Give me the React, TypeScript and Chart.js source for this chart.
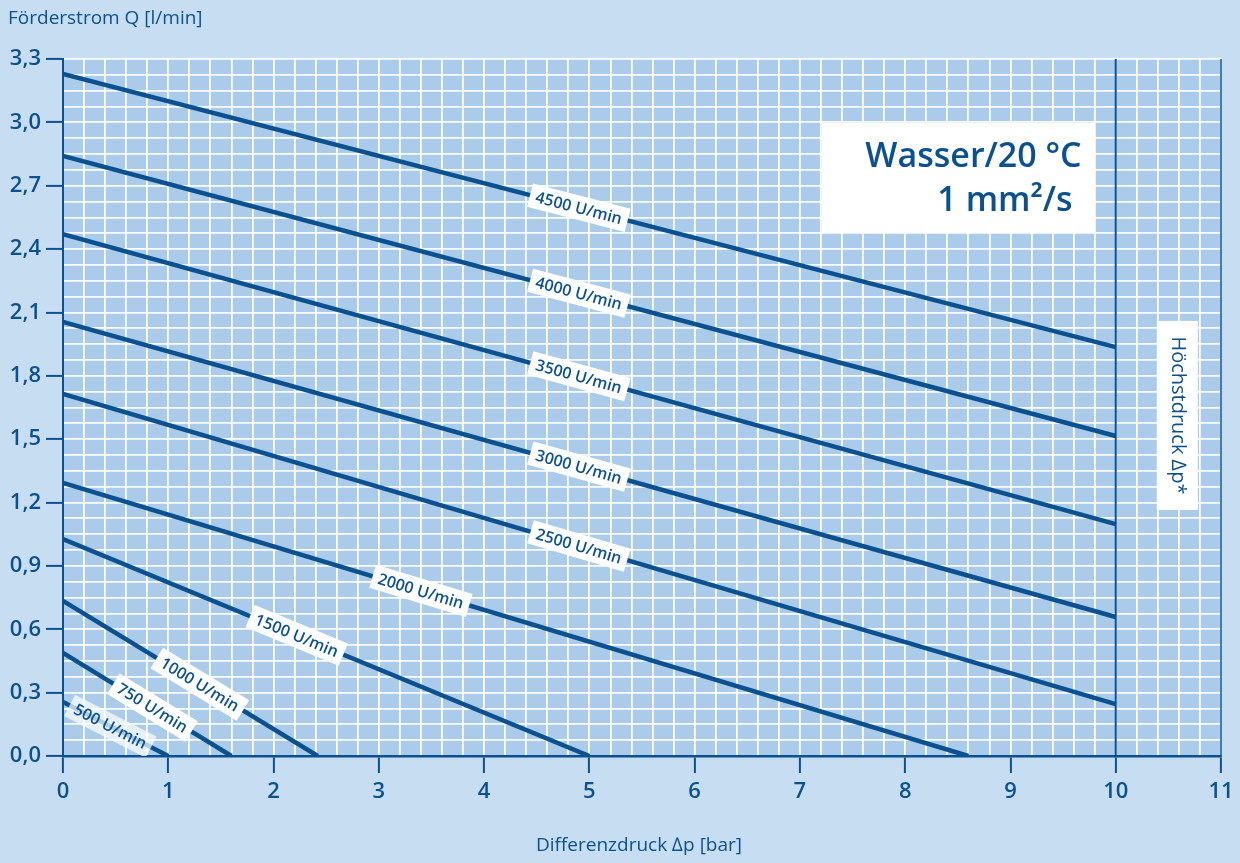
import React, { useEffect, useRef } from "react";
import { Chart, registerables } from "chart.js";

Chart.register(...registerables);

const rpmLabels = ["500 U/min", "750 U/min", "1000 U/min", "1500 U/min", "2000 U/min", "2500 U/min", "3000 U/min", "3500 U/min", "4000 U/min", "4500 U/min"];
const flowAtZero = [0.256, 0.488, 0.734, 1.027, 1.293, 1.714, 2.055, 2.471, 2.841, 3.229];
const endPressure = [1.0, 1.6, 2.42, 5.0, 8.6, 10, 10, 10, 10, 10];
const endFlow = [0, 0, 0, 0, 0, 0.246, 0.658, 1.098, 1.515, 1.936];
const labelPressure = [0.45, 0.85, 1.3, 2.22, 3.4, 4.9, 4.9, 4.9, 4.9, 4.9];

const xTickValues = [0, 1, 2, 3, 4, 5, 6, 7, 8, 9, 10, 11];
const yTickValues = [0, 0.3, 0.6, 0.9, 1.2, 1.5, 1.8, 2.1, 2.4, 2.7, 3.0, 3.3];
const maxPressure = 10;

const yTitle = "Förderstrom Q [l/min]";
const xTitle = "Differenzdruck ∆p [bar]";
const mediumTitle = ["Wasser/20 °C", "1 mm²/s"];
const limitTitle = "Höchstdruck ∆p*";

const DARK = "#0b5190";
const PLOT_BG = "#aacbea";
const PAGE_BG = "#c7ddf1";
const FONT = "'Open Sans', 'Noto Sans', sans-serif";

const isMajor = (v: number, list: number[]) => list.some((t) => Math.abs(t - v) < 1e-6);

const decorPlugin = {
  id: "decor",
  beforeDraw(chart: any) {
    const { ctx, chartArea: a } = chart;
    ctx.save();
    ctx.fillStyle = PLOT_BG;
    ctx.fillRect(a.left, a.top, a.right - a.left, a.bottom - a.top);
    ctx.restore();
  },
  afterDatasetsDraw(chart: any) {
    const { ctx, chartArea: a, scales } = chart;
    const xs = scales.x;
    const ys = scales.y;
    // rpm labels
    ctx.save();
    ctx.beginPath();
    ctx.rect(a.left, a.top, a.right - a.left, a.bottom - a.top);
    ctx.clip();
    ctx.font = `600 16px ${FONT}`;
    rpmLabels.forEach((txt, i) => {
      const slope = (endFlow[i] - flowAtZero[i]) / endPressure[i];
      const px = labelPressure[i];
      const py = flowAtZero[i] + slope * px;
      const cx = xs.getPixelForValue(px);
      const cy = ys.getPixelForValue(py);
      const dx = xs.getPixelForValue(endPressure[i]) - xs.getPixelForValue(0);
      const dy = ys.getPixelForValue(endFlow[i]) - ys.getPixelForValue(flowAtZero[i]);
      const ang = Math.atan2(dy, dx);
      const w = ctx.measureText(txt).width + 12;
      const h = 24;
      ctx.save();
      ctx.translate(cx, cy);
      ctx.rotate(ang);
      ctx.fillStyle = i === 0 ? "rgba(255,255,255,0.7)" : "#ffffff";
      ctx.fillRect(-w / 2, -h / 2, w, h);
      ctx.fillStyle = DARK;
      ctx.textAlign = "center";
      ctx.textBaseline = "middle";
      ctx.fillText(txt, 0, 1);
      ctx.restore();
    });
    ctx.restore();

    // limit line at max pressure and right border
    ctx.save();
    ctx.strokeStyle = DARK;
    ctx.lineWidth = 2;
    const x10 = xs.getPixelForValue(maxPressure);
    ctx.beginPath();
    ctx.moveTo(x10, a.top);
    ctx.lineTo(x10, a.bottom);
    ctx.stroke();
    ctx.lineWidth = 1.5;
    ctx.beginPath();
    ctx.moveTo(a.right, a.top);
    ctx.lineTo(a.right, a.bottom);
    ctx.stroke();

    // medium box
    const bx1 = xs.getPixelForValue(7.21);
    const bx2 = xs.getPixelForValue(9.8);
    const by1 = ys.getPixelForValue(2.997);
    const by2 = ys.getPixelForValue(2.476);
    ctx.fillStyle = "#ffffff";
    ctx.fillRect(bx1, by1, bx2 - bx1, by2 - by1);
    ctx.fillStyle = DARK;
    ctx.font = `600 34px ${FONT}`;
    ctx.textAlign = "right";
    ctx.textBaseline = "middle";
    ctx.fillText(mediumTitle[0], bx2 - 13, by1 + 34);
    ctx.fillText(mediumTitle[1], bx2 - 22, by1 + 78);

    // limit box
    const lx1 = xs.getPixelForValue(10.39);
    const lx2 = xs.getPixelForValue(10.78);
    const ly1 = ys.getPixelForValue(2.06);
    const ly2 = ys.getPixelForValue(1.165);
    ctx.fillStyle = "#ffffff";
    ctx.fillRect(lx1, ly1, lx2 - lx1, ly2 - ly1);
    ctx.save();
    ctx.translate((lx1 + lx2) / 2, (ly1 + ly2) / 2);
    ctx.rotate(Math.PI / 2);
    ctx.fillStyle = DARK;
    ctx.font = `400 20px ${FONT}`;
    ctx.textAlign = "center";
    ctx.textBaseline = "middle";
    ctx.fillText(limitTitle, 0, 0);
    ctx.restore();

    // axis titles
    ctx.fillStyle = DARK;
    ctx.font = `400 19px ${FONT}`;
    ctx.textAlign = "left";
    ctx.textBaseline = "middle";
    ctx.fillText(yTitle, 8, 19);
    ctx.textAlign = "center";
    ctx.fillText(xTitle, 639, 846);
    ctx.restore();
  },
};

export default function App() {
  const ref = useRef<HTMLCanvasElement | null>(null);

  useEffect(() => {
    if (!ref.current) return;
    const datasets = rpmLabels.map((l, i) => ({
      label: l,
      data: [
        { x: 0, y: flowAtZero[i] },
        { x: endPressure[i], y: endFlow[i] },
      ],
      showLine: true,
      borderColor: DARK,
      borderWidth: 4.5,
      pointRadius: 0,
      fill: false,
    }));
    const chart = new Chart(ref.current, {
      type: "scatter",
      data: { datasets },
      plugins: [decorPlugin],
      options: {
        animation: false,
        responsive: false,
        maintainAspectRatio: false,
        layout: { padding: { top: 59, right: 19, left: 0, bottom: 0 } },
        plugins: { legend: { display: false }, tooltip: { enabled: false } },
        scales: {
          x: {
            type: "linear",
            min: 0,
            max: 11,
            afterFit: (s: any) => {
              s.height = 107;
            },
            border: { color: DARK, width: 2.5 },
            grid: {
              color: "rgba(255,255,255,0.95)",
              lineWidth: 1.8,
              drawTicks: true,
              tickLength: 17,
              tickWidth: 2,
              tickColor: (c: any) => (c.tick && isMajor(c.tick.value, xTickValues) ? DARK : "rgba(0,0,0,0)"),
            },
            ticks: {
              stepSize: 0.2,
              autoSkip: false,
              maxRotation: 0,
              padding: 6,
              color: DARK,
              font: { family: FONT, size: 22, weight: 600 },
              callback: (v: any) => (isMajor(Number(v), xTickValues) ? String(Math.round(Number(v))) : ""),
            },
          },
          y: {
            type: "linear",
            min: 0,
            max: 3.3,
            afterFit: (s: any) => {
              s.width = 63;
            },
            border: { color: DARK, width: 2 },
            grid: {
              color: "rgba(255,255,255,0.95)",
              lineWidth: 1.8,
              drawTicks: true,
              tickLength: 17,
              tickWidth: 2,
              tickColor: (c: any) => (c.tick && isMajor(c.tick.value, yTickValues) ? DARK : "rgba(0,0,0,0)"),
            },
            ticks: {
              stepSize: 0.075,
              autoSkip: false,
              padding: 5,
              color: DARK,
              font: { family: FONT, size: 22, weight: 600 },
              callback: (v: any) => (isMajor(Number(v), yTickValues) ? Number(v).toFixed(1).replace(".", ",") : ""),
            },
          },
        },
      },
    } as any);
    return () => chart.destroy();
  }, []);

  return (
    <div style={{ position: "absolute", left: 0, top: 0, width: 1240, height: 863, background: PAGE_BG }}>
      <canvas ref={ref} width={1240} height={863} style={{ display: "block", width: 1240, height: 863 }} />
    </div>
  );
}
